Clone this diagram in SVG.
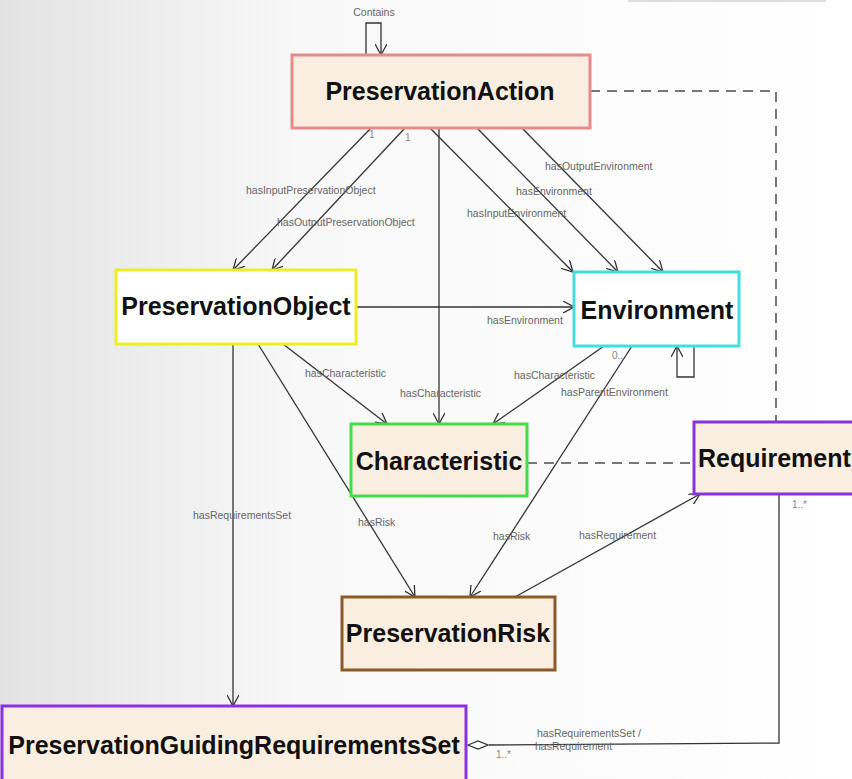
<svg xmlns="http://www.w3.org/2000/svg" width="852" height="779" viewBox="0 0 852 779">
<style>
.node{stroke-width:3}
.lbl{font-family:"Liberation Sans",Arial,sans-serif;font-weight:bold;font-size:25px;fill:#111}
.sm{font-family:"Liberation Sans",Arial,sans-serif;font-size:10.5px;fill:#666}
.mul{font-family:"Liberation Sans",Arial,sans-serif;font-size:10px;fill:#888}
.c{fill:none;stroke:#333;stroke-width:1.3}
.d{fill:none;stroke:#777;stroke-width:2;stroke-dasharray:10 7}
</style>
<defs>
<linearGradient id="bg" x1="0" y1="0" x2="1" y2="0">
<stop offset="0" stop-color="#e3e3e3"/>
<stop offset="0.35" stop-color="#f8f8f8"/>
<stop offset="1" stop-color="#ffffff"/>
</linearGradient>
<marker id="a" viewBox="0 0 12 12" refX="11" refY="6" markerWidth="12" markerHeight="12" markerUnits="userSpaceOnUse" orient="auto">
<path d="M0,0 L11,6 L0,12" fill="none" stroke="#333" stroke-width="1.3"/>
</marker>
</defs>
<rect x="0" y="0" width="852" height="779" fill="url(#bg)"/>
<rect x="628" y="0" width="198" height="2" fill="#ddd"/>

<g id="connectors">
<path class="c" d="M366,55 V23 H381 V55" marker-end="url(#a)"/>
<path class="c" d="M371,128 L233,270" marker-end="url(#a)"/>
<path class="c" d="M405,128 L272,270" marker-end="url(#a)"/>
<path class="c" d="M439,128 L439,424" marker-end="url(#a)"/>
<path class="c" d="M430,128 L573,272" marker-end="url(#a)"/>
<path class="c" d="M477,128 L618,272" marker-end="url(#a)"/>
<path class="c" d="M522,128 L663,272" marker-end="url(#a)"/>
<path class="c" d="M356,307 L574,307" marker-end="url(#a)"/>
<path class="c" d="M283,344 L387,424" marker-end="url(#a)"/>
<path class="c" d="M604,346 L493,424" marker-end="url(#a)"/>
<path class="c" d="M632,346 L470,597" marker-end="url(#a)"/>
<path class="c" d="M258,344 L415,597" marker-end="url(#a)"/>
<path class="c" d="M515,597 L700,494" marker-end="url(#a)"/>
<path class="c" d="M233,344 L233,706" marker-end="url(#a)"/>
<path class="c" d="M694,346 V377 H677 V346" marker-end="url(#a)"/>
<path class="c" d="M779,494 V743 L489,745"/>
<path d="M468,745 L478,741 L488,745 L478,749 Z" fill="#fff" stroke="#333" stroke-width="1.3"/>
<path class="d" d="M590,91 H776 V422"/>
<path class="d" d="M527,463 H693"/>

<text class="sm" x="374" y="16" text-anchor="middle">Contains</text>
<text class="sm" x="246" y="194">hasInputPreservationObject</text>
<text class="sm" x="277" y="226">hasOutputPreservationObject</text>
<text class="sm" x="545" y="170">hasOutputEnvironment</text>
<text class="sm" x="516" y="195">hasEnvironment</text>
<text class="sm" x="467" y="217">hasInputEnvironment</text>
<text class="sm" x="487" y="324">hasEnvironment</text>
<text class="sm" x="305" y="377">hasCharacteristic</text>
<text class="sm" x="400" y="397">hasCharacteristic</text>
<text class="sm" x="514" y="379">hasCharacteristic</text>
<text class="sm" x="561" y="396">hasParentEnvironment</text>
<text class="sm" x="193" y="519">hasRequirementsSet</text>
<text class="sm" x="358" y="526">hasRisk</text>
<text class="sm" x="493" y="540">hasRisk</text>
<text class="sm" x="579" y="539">hasRequirement</text>
<text class="sm" x="537" y="737">hasRequirementsSet /</text>
<text class="sm" x="535" y="750">hasRequirement</text>
<text class="mul" x="369" y="138">1</text>
<text class="mul" x="405" y="141">1</text>
<text class="mul" x="612" y="359">0..</text>
<text class="mul" x="496" y="758">1..*</text>
<text class="mul" x="792" y="508">1..*</text>
</g>

<g id="PreservationAction">
<rect class="node" x="292" y="55" width="298" height="73" fill="#faeee0" stroke="#e98a8a"/>
<text class="lbl" x="440" y="100" text-anchor="middle">PreservationAction</text>
</g>
<g id="PreservationObject">
<rect class="node" x="116" y="270" width="240" height="74" fill="#ffffff" stroke="#eeee22"/>
<text class="lbl" x="236" y="315" text-anchor="middle">PreservationObject</text>
</g>
<g id="Environment">
<rect class="node" x="574" y="272" width="165" height="74" fill="#ffffff" stroke="#44dddd"/>
<text class="lbl" x="657" y="319" text-anchor="middle">Environment</text>
</g>
<g id="Characteristic">
<rect class="node" x="351" y="424" width="176" height="72" fill="#faeee0" stroke="#44dd44"/>
<text class="lbl" x="439" y="470" text-anchor="middle">Characteristic</text>
</g>
<g id="Requirement">
<rect class="node" x="694" y="422" width="170" height="72" fill="#faeee0" stroke="#8833dd"/>
<text class="lbl" x="698" y="467">Requirement</text>
</g>
<g id="PreservationRisk">
<rect class="node" x="342" y="597" width="213" height="73" fill="#faeee0" stroke="#8b5a2b"/>
<text class="lbl" x="448" y="642" text-anchor="middle">PreservationRisk</text>
</g>
<g id="PreservationGuidingRequirementsSet">
<rect class="node" x="2" y="706" width="464" height="78" fill="#faeee0" stroke="#8833dd"/>
<text class="lbl" x="234" y="754" text-anchor="middle">PreservationGuidingRequirementsSet</text>
</g>
</svg>
